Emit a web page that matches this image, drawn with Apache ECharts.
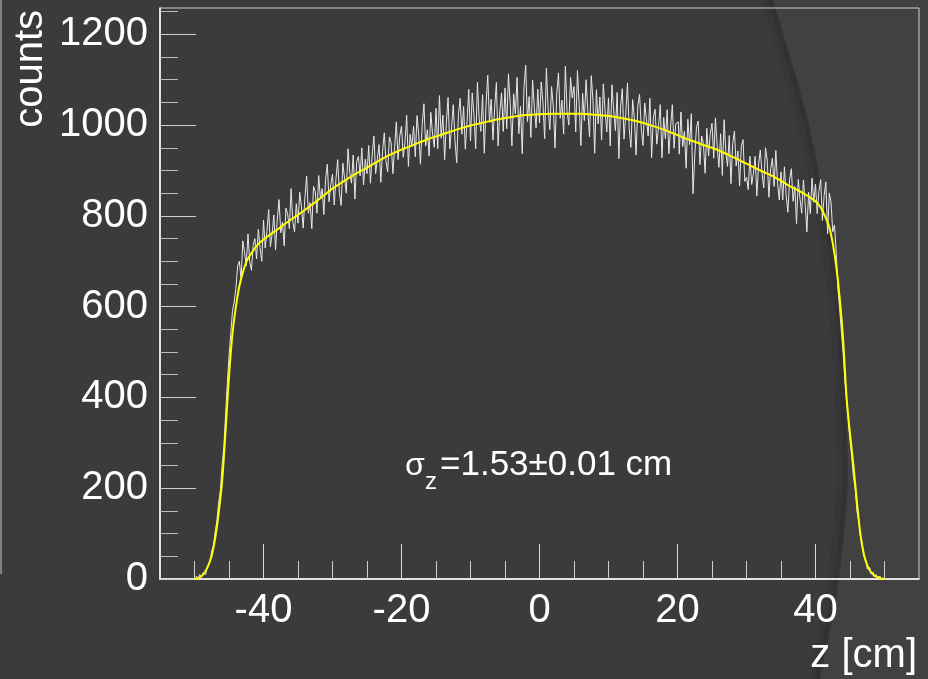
<!DOCTYPE html>
<html>
<head>
<meta charset="utf-8">
<title>z distribution</title>
<script src="https://cdn.jsdelivr.net/npm/echarts@6.0.0/dist/echarts.min.js"></script>
<style>
	html, body {
		margin: 0px;
		padding: 0px;
		background: #3b3b3b;
	}
	#box {
		width: 928px;
		height: 679px;
	}
</style>
</head>
<body>
<div id="box"></div>
<script>
	// 直方图：-50 ~ 50 cm，每格 0.25 cm
	var binLow = -50;
	var binWidth = 0.25;
	var counts = [
		0, 6, 2, 10, 4, 14, 10, 22, 30, 40, 62, 74, 104, 128, 168, 196, 250, 290, 360, 430,
		490, 540, 590, 610, 640, 690, 700, 660, 745, 720, 690, 760, 700, 680, 735, 750, 705, 770, 730, 700,
		791, 729, 766, 814, 732, 760, 802, 725, 793, 836, 763, 786, 734, 817, 804, 772, 860, 787, 765, 827,
		784, 852, 820, 773, 840, 888, 806, 829, 772, 865, 853, 806, 889, 837, 860, 803, 881, 914, 831, 869,
		892, 824, 881, 924, 851, 823, 916, 883, 850, 948, 895, 872, 934, 837, 919, 931, 888, 950, 868, 925,
		893, 955, 872, 934, 976, 893, 925, 957, 874, 941, 983, 920, 897, 974, 961, 893, 950, 1007, 924, 976,
		998, 929, 961, 1022, 909, 980, 952, 998, 930, 1021, 978, 914, 1001, 1047, 954, 990, 932, 1028, 980, 951,
		1037, 948, 1065, 971, 1022, 924, 1005, 1061, 948, 994, 1045, 966, 917, 1023, 1059, 980, 1041, 947, 1008, 1079,
		965, 1071, 1022, 948, 1094, 1015, 986, 1067, 938, 1044, 1110, 1006, 1057, 967, 1038, 1094, 954, 1030, 1071, 986,
		1082, 992, 1113, 1048, 954, 1069, 1025, 1105, 981, 1041, 937, 1082, 1132, 1008, 1063, 973, 1099, 1039, 994, 1079,
		1005, 1095, 1050, 970, 1125, 1035, 990, 1085, 1040, 950, 1070, 1115, 1015, 1055, 980, 1130, 1030, 1000, 1105, 1060,
		1085, 985, 1120, 1045, 955, 1070, 1010, 1100, 1030, 974, 1109, 1054, 938, 1078, 1003, 1062, 967, 1091, 1031, 985,
		1060, 954, 1089, 1033, 988, 1072, 926, 1041, 1080, 969, 1024, 1093, 992, 951, 1056, 1015, 934, 1043, 1068, 992,
		955, 1049, 1012, 976, 1059, 928, 1016, 1035, 958, 996, 1045, 928, 1017, 970, 1034, 937, 996, 1045, 949, 1003,
		1007, 936, 1029, 953, 986, 905, 1013, 957, 1025, 849, 932, 996, 1009, 913, 976, 960, 894, 993, 932, 980,
		1004, 927, 1016, 954, 907, 981, 889, 1012, 941, 909, 977, 871, 959, 987, 910, 943, 866, 954, 968, 876,
		885, 858, 931, 869, 893, 931, 844, 912, 945, 893, 862, 950, 923, 841, 904, 927, 865, 944, 872, 835,
		897, 835, 908, 845, 808, 881, 904, 832, 865, 783, 880, 838, 806, 879, 827, 765, 852, 805, 883, 830,
		870, 805, 855, 880, 790, 845, 875, 760, 850, 830, 765, 780, 720, 640, 595, 545, 500, 440, 395, 350,
		305, 270, 225, 200, 150, 130, 95, 80, 50, 45, 22, 25, 12, 15, 5, 10, 3, 6, 0, 2
	];

	// 拟合曲线（从图上读出的点）
	var fitZ = [
		-50, -49.5, -49, -48.5, -48, -47.5, -47, -46.5, -46, -45.5, -45, -44.5, -44, -43.5, -43, -42.5, -42,
		-41, -40, -38, -36, -34, -32, -30, -28, -26, -24, -22, -20, -18, -16, -14, -12, -10, -8, -6, -4, -2,
		0, 2, 4, 6, 8, 10, 12, 14, 16, 18, 20, 22, 24, 26, 28, 30, 32, 34, 36, 38, 39, 40, 40.5, 41, 41.5,
		42, 42.5, 43, 43.5, 44, 44.5, 45, 45.5, 46, 46.5, 47, 47.5, 48, 48.5, 49, 49.5, 50
	];
	var fitV = [
		0, 2, 6, 15, 30, 52, 90, 145, 215, 325, 447, 540, 600, 645, 675, 698, 712,
		734, 748, 770, 792, 813, 836, 860, 880, 898, 915, 932, 946, 958, 970, 980, 990, 999, 1006, 1013, 1018, 1022,
		1024, 1025, 1025, 1025, 1023, 1020, 1015, 1009, 1000, 990, 978, 966, 955, 944, 930, 915, 900, 886, 868, 852, 843, 832, 824, 812, 795,
		775, 740, 690, 620, 528, 400, 320, 250, 170, 100, 55, 30, 16, 8, 4, 1, 0
	];

	var xMajor = [-40, -20, 0, 20, 40];
	var xMinor = [-50, -45, -35, -30, -25, -15, -10, -5, 5, 10, 15, 25, 30, 35, 45, 50];
	var yMajor = [0, 200, 400, 600, 800, 1000, 1200];
	var yMinor = [50, 100, 150, 250, 300, 350, 450, 500, 550, 650, 700, 750, 850, 900, 950, 1050, 1100, 1150, 1250];

	var fontName = 'Liberation Sans, Arial, Helvetica, sans-serif';

	var histData = counts.map(function (v, i) {
		return [binLow + binWidth * (i + 0.5), v];
	});
	var fitData = fitZ.map(function (z, i) {
		return [z, fitV[i]];
	});

	function plainNum(v) {
		return String(v);
	}

	// 背景弧线
	var arcPts = [[773, 0], [808, 120], [828, 220], [840, 300], [846, 400], [848, 480], [843, 545], [835, 605], [820, 679]];

	var myChart = echarts.init(document.getElementById('box'));

	var option = {
		animation: false,
		backgroundColor: '#3b3b3b',
		grid: {
			left: 160,
			right: 9,
			top: 8,
			bottom: 100,
			show: true,
			borderColor: '#cfcfcf',
			borderWidth: 1
		},
		xAxis: [{
			type: 'value',
			min: -55,
			max: 55,
			splitLine: { show: false },
			axisLine: { show: true, onZero: false, lineStyle: { color: '#ffffff', width: 1.5 } },
			axisTick: { show: true, inside: true, length: 35, customValues: xMajor, lineStyle: { color: '#dcdcdc' } },
			axisLabel: { customValues: xMajor, formatter: plainNum, color: '#ffffff', fontSize: 40, fontFamily: fontName, margin: 12 }
		}, {
			type: 'value',
			min: -55,
			max: 55,
			position: 'bottom',
			splitLine: { show: false },
			axisLine: { show: false, onZero: false },
			axisTick: { show: true, inside: true, length: 18, customValues: xMinor, lineStyle: { color: '#cfcfcf' } },
			axisLabel: { show: false }
		}],
		yAxis: [{
			type: 'value',
			min: 0,
			max: 1258,
			splitLine: { show: false },
			axisLine: { show: true, onZero: false, lineStyle: { color: '#ffffff', width: 1.5 } },
			axisTick: { show: true, inside: true, length: 36, customValues: yMajor, lineStyle: { color: '#cfcfcf' } },
			axisLabel: { customValues: yMajor, formatter: plainNum, color: '#ffffff', fontSize: 40, fontFamily: fontName, margin: 12 }
		}, {
			type: 'value',
			min: 0,
			max: 1258,
			position: 'left',
			splitLine: { show: false },
			axisLine: { show: false, onZero: false },
			axisTick: { show: true, inside: true, length: 18, customValues: yMinor, lineStyle: { color: '#bdbdbd' } },
			axisLabel: { show: false }
		}],
		graphic: [{
			// 右侧背景弧形
			type: 'polygon',
			z: -5,
			shape: {
				points: arcPts.concat([[928, 679], [928, 0]])
			},
			style: { fill: '#414141' }
		}, {
			type: 'polyline',
			z: -4,
			shape: {
				points: arcPts.map(function (p) { return [p[0] - 6, p[1]]; }),
				smooth: 0.3
			},
			style: { stroke: 'rgba(0,0,0,0.06)', lineWidth: 12, fill: null }
		}, {
			type: 'polyline',
			z: -4,
			shape: {
				points: arcPts.map(function (p) { return [p[0] - 3, p[1]]; }),
				smooth: 0.3
			},
			style: { stroke: 'rgba(0,0,0,0.08)', lineWidth: 5, fill: null }
		}, {
			type: 'line',
			z: -4,
			shape: { x1: 1, y1: 0, x2: 1, y2: 574 },
			style: { stroke: '#9a9a9a', lineWidth: 1.5 }
		}, {
			type: 'text',
			x: 31,
			y: 10,
			rotation: Math.PI / 2,
			style: { text: 'counts', fill: '#ffffff', font: '40px ' + fontName, align: 'right', verticalAlign: 'middle' }
		}, {
			type: 'text',
			x: 917,
			y: 656,
			style: { text: 'z [cm]', fill: '#ffffff', font: '40px ' + fontName, align: 'right', verticalAlign: 'middle' }
		}, {
			type: 'text',
			x: 405,
			y: 466,
			style: { text: 'σ', fill: '#ffffff', font: '32px ' + fontName, align: 'left', verticalAlign: 'middle' }
		}, {
			type: 'text',
			x: 425,
			y: 482,
			style: { text: 'z', fill: '#ffffff', font: '24px ' + fontName, align: 'left', verticalAlign: 'middle' }
		}, {
			type: 'text',
			x: 440,
			y: 465,
			style: { text: '=1.53±0.01 cm', fill: '#ffffff', font: '35px ' + fontName, align: 'left', verticalAlign: 'middle' }
		}],
		series: [{
			name: 'hist',
			type: 'line',
			step: 'middle',
			showSymbol: false,
			data: histData,
			lineStyle: { color: '#e8e8e8', width: 1 },
			z: 3
		}, {
			name: 'fit',
			type: 'line',
			smooth: 0.3,
			showSymbol: false,
			data: fitData,
			lineStyle: { color: '#ffff00', width: 2 },
			z: 4
		}]
	};

	myChart.setOption(option);
</script>
</body>
</html>
